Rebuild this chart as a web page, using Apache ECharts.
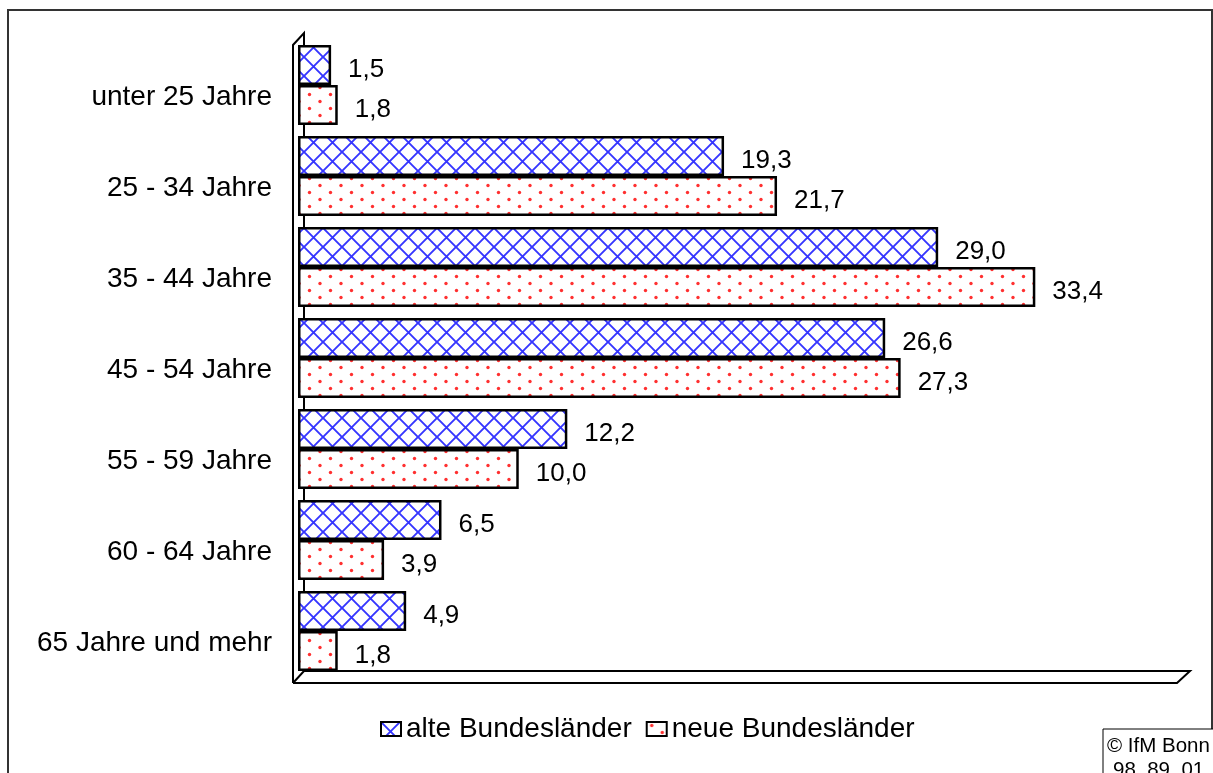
<!DOCTYPE html>
<html>
<head>
<meta charset="utf-8">
<script src="https://cdn.jsdelivr.net/npm/echarts@6/dist/echarts.min.js"></script>
<style>
  html, body { margin: 0; padding: 0; background: #fff; }
  #chart { width: 1213px; height: 773px; }
</style>
</head>
<body>
<div id="chart"></div>
<script>
// Altersgruppen
var categories = ['unter 25 Jahre', '25 - 34 Jahre', '35 - 44 Jahre', '45 - 54 Jahre', '55 - 59 Jahre', '60 - 64 Jahre', '65 Jahre und mehr'];
var seriesNames = ['alte Bundesländer', 'neue Bundesländer'];
var alteWerte = [1.5, 19.3, 29.0, 26.6, 12.2, 6.5, 4.9];
var neueWerte = [1.8, 21.7, 33.4, 27.3, 10.0, 3.9, 1.8];

// Muster: Kreuzschraffur (blau) und Punkte (rot)
function crossPattern() {
	var c = document.createElement('canvas');
	c.width = 19; c.height = 19;
	var ctx = c.getContext('2d');
	ctx.fillStyle = '#fff';
	ctx.fillRect(0, 0, 19, 19);
	ctx.strokeStyle = '#3535ff';
	ctx.lineWidth = 1.9;
	ctx.beginPath();
	ctx.moveTo(-1, -1); ctx.lineTo(20, 20);
	ctx.moveTo(20, -1); ctx.lineTo(-1, 20);
	ctx.stroke();
	return c;
}
function dotPattern() {
	var c = document.createElement('canvas');
	c.width = 21; c.height = 14;
	var ctx = c.getContext('2d');
	ctx.fillStyle = '#fff';
	ctx.fillRect(0, 0, 21, 14);
	ctx.fillStyle = '#ff3030';
	ctx.beginPath(); ctx.arc(5, 3.5, 1.7, 0, Math.PI * 2); ctx.fill();
	ctx.beginPath(); ctx.arc(15.5, 10.5, 1.7, 0, Math.PI * 2); ctx.fill();
	return c;
}

function fmt(p) {
	return p.value.toFixed(1).replace('.', ',');
}

var fontFam = '"Liberation Sans", Arial, sans-serif';

var option = {
	backgroundColor: '#fff',
	animation: false,
	textStyle: { fontFamily: fontFam, color: '#000' },
	legend: {
		data: seriesNames,
		bottom: 25,
		left: 375,
		icon: 'rect',
		itemWidth: 20,
		itemHeight: 14,
		itemGap: 14,
		textStyle: { fontSize: 28, color: '#000', fontFamily: fontFam }
	},
	grid: {
		left: 298,
		right: 32,
		top: 39.5,
		bottom: 96.5
	},
	xAxis: {
		type: 'value',
		min: 0,
		max: 40,
		show: false
	},
	yAxis: {
		type: 'category',
		inverse: true,
		data: categories,
		axisLine: { show: false },
		axisTick: { show: false },
		axisLabel: {
			margin: 26,
			fontSize: 28,
			lineHeight: 24,
			verticalAlign: 'top',
			color: '#000',
			fontFamily: fontFam
		}
	},
	series: [
		{
			name: seriesNames[0],
			type: 'bar',
			data: alteWerte,
			barGap: '0%',
			barCategoryGap: '12%',
			itemStyle: {
				color: { image: crossPattern(), repeat: 'repeat' },
				borderColor: '#000',
				borderWidth: 2.5
			},
			label: {
				show: true,
				position: 'right',
				distance: 17,
				offset: [0, 5],
				fontSize: 26,
				color: '#000',
				fontFamily: fontFam,
				formatter: fmt
			}
		},
		{
			name: seriesNames[1],
			type: 'bar',
			data: neueWerte,
			barGap: '0%',
			barCategoryGap: '12%',
			itemStyle: {
				color: { image: dotPattern(), repeat: 'repeat' },
				borderColor: '#000',
				borderWidth: 2.5
			},
			label: {
				show: true,
				position: 'right',
				distance: 17,
				offset: [0, 5],
				fontSize: 26,
				color: '#000',
				fontFamily: fontFam,
				formatter: fmt
			}
		}
	]
};

var chart = echarts.init(document.getElementById('chart'), null, { renderer: 'canvas' });
chart.setOption(option);

// 3D-Rahmen (Wand und Boden) aus den Achsenpositionen
var x0 = chart.convertToPixel({ gridIndex: 0 }, [0, 0])[0];
var x40 = chart.convertToPixel({ gridIndex: 0 }, [40, 0])[0];
var yFirst = chart.convertToPixel({ gridIndex: 0 }, [0, 0])[1];
var yLast = chart.convertToPixel({ gridIndex: 0 }, [0, categories.length - 1])[1];
var band = (yLast - yFirst) / (categories.length - 1);
var barTop = yFirst - band * 0.44;
var barBottom = yLast + band * 0.44;
var dx = 11, dy = 12;
var fx = x0 - 5;          // vordere Wandlinie
var lineStyle = { stroke: '#000', lineWidth: 2, fill: null };

chart.setOption({
	graphic: [
		// Außenrahmen
		{ type: 'rect', shape: { x: 8, y: 10, width: 1204, height: 800 }, style: { stroke: '#333', lineWidth: 2, fill: null }, z: 0 },
		// linke Wand
		{ type: 'polyline', shape: { points: [[fx + dx, barBottom], [fx + dx, barTop - dy], [fx, barTop], [fx, barBottom + dy]] }, style: lineStyle, z: 0 },
		// Boden
		{ type: 'polyline', shape: { points: [[fx, barBottom + dy], [x40 - 4, barBottom + dy], [x40 - 4 + dx + 2, barBottom], [fx + dx, barBottom], [fx, barBottom + dy]] }, style: lineStyle, z: 0 },
		// Copyright-Kasten
		{ type: 'rect', shape: { x: 1103, y: 729, width: 120, height: 60 }, style: { stroke: '#000', lineWidth: 1, fill: '#fff' }, z: 10 },
		{ type: 'text', x: 1107, y: 736, style: { text: '© IfM Bonn', fontSize: 20.5, fontFamily: fontFam, fill: '#000' }, z: 11 },
		{ type: 'text', x: 1113, y: 760, style: { text: '98  89  01', fontSize: 20.5, fontFamily: fontFam, fill: '#000' }, z: 11 }
	]
});
</script>
</body>
</html>
